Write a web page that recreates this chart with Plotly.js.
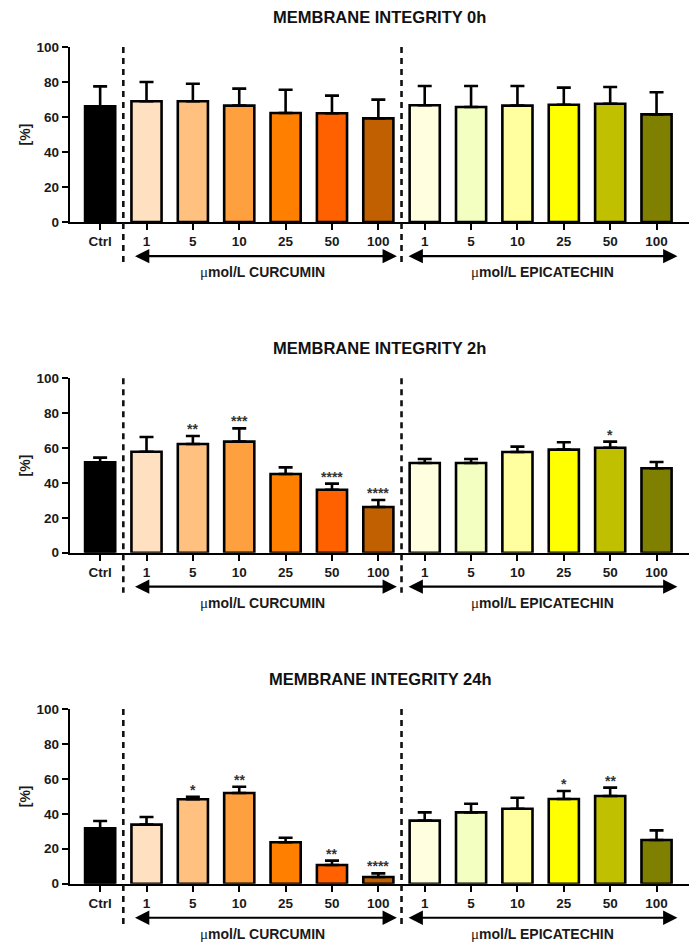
<!DOCTYPE html>
<html><head><meta charset="utf-8">
<script src="https://cdn.plot.ly/plotly-3.0.1.min.js"></script>
<style>html,body{margin:0;padding:0;background:#fff}#chart{width:689px;height:942px}</style>
</head><body><div id="chart"></div>
<script>
// Data
const tickLabels = ["Ctrl","1","5","10","25","50","100","1","5","10","25","50","100"];
const barColors = ["#000000","#FFE0C0","#FFC080","#FFA040","#FF8000","#FF6000","#C06000",
                   "#FFFFE0","#F2FFC0","#FFFFA0","#FFFF00","#C0C000","#808000"];
const panelTitles = ["MEMBRANE INTEGRITY 0h","MEMBRANE INTEGRITY 2h","MEMBRANE INTEGRITY 24h"];
const groupNames = ["CURCUMIN","EPICATECHIN"];
const unitLabel = "mol/L";

const mean0h = [66.1, 69.0, 69.0, 66.5, 62.3, 62.1, 59.2, 66.7, 65.7, 66.5, 67.0, 67.6, 61.5];
const top0h  = [77.5, 80.0, 79.0, 76.2, 75.6, 72.2, 69.9, 77.7, 77.7, 77.7, 76.8, 77.1, 74.1];
const sig0h  = ["","","","","","","","","","","","",""];

const mean2h = [51.8, 57.9, 62.3, 63.7, 45.1, 36.1, 26.2, 51.4, 51.4, 57.7, 59.1, 60.2, 48.4];
const top2h  = [54.5, 66.3, 66.9, 71.3, 48.9, 39.6, 30.2, 53.7, 53.7, 60.8, 63.3, 63.7, 52.0];
const sig2h  = ["","","**","***","","****","****","","","","","*",""];

const mean24h = [31.7, 33.8, 48.3, 51.9, 23.7, 10.7, 3.8, 36.1, 40.8, 42.9, 48.5, 50.2, 25.0];
const top24h  = [35.9, 38.2, 49.8, 55.5, 26.3, 13.2, 5.9, 40.8, 45.8, 49.2, 53.1, 55.0, 30.5];
const sig24h  = ["","","*","**","","**","****","","","","*","**",""];

const panels = [
  {mean: mean0h, top: top0h, sig: sig0h},
  {mean: mean2h, top: top2h, sig: sig2h},
  {mean: mean24h, top: top24h, sig: sig24h}
];

// Layout geometry (pixels of the 689x942 page)
const W = 689, H = 942;
const plotTops = [47, 378.3, 709];
const plotBots = [222, 552.7, 883.7];
const xLeftPx = 70, xRightPx = 689;
const xRange = [-0.65, 12.7];
const FONT = "Liberation Sans, Arial, sans-serif";

const xs = tickLabels.map((_, i) => i);
const traces = [];
const layout = {
  width: W, height: H,
  margin: {l: 0, r: 0, t: 0, b: 0},
  paper_bgcolor: "#fff", plot_bgcolor: "#fff",
  showlegend: false, bargap: 0.35,
  font: {family: FONT, color: "#000"},
  shapes: [], annotations: []
};

panels.forEach((p, k) => {
  const sfx = k === 0 ? "" : String(k + 1);
  const xa = "x" + sfx, ya = "y" + sfx;
  traces.push({
    type: "bar", x: xs, y: p.mean, xaxis: xa, yaxis: ya, width: 0.65,
    marker: {color: barColors, line: {color: "#000", width: 2.6}},
    error_y: {type: "data", symmetric: false,
              array: p.top.map((t, i) => t - p.mean[i]),
              arrayminus: p.mean.map(() => 0),
              color: "#000", thickness: 2.6, width: 7},
    hoverinfo: "none"
  });
  const yDom = [1 - plotBots[k] / H, 1 - plotTops[k] / H];
  const tf = {family: FONT, size: 13.5, color: "#1a1a1a", weight: "bold"};
  layout["xaxis" + sfx] = {
    domain: [xLeftPx / W, xRightPx / W], range: xRange, anchor: ya,
    tickmode: "array", tickvals: xs, ticktext: tickLabels,
    showline: true, linecolor: "#000", linewidth: 2.2,
    ticks: "outside", ticklen: 6, tickwidth: 2, tickcolor: "#000",
    showgrid: false, zeroline: false, fixedrange: true, tickfont: tf
  };
  layout["yaxis" + sfx] = {
    domain: yDom, range: [0, 100], anchor: xa,
    tickvals: [0, 20, 40, 60, 80, 100],
    showline: true, linecolor: "#000", linewidth: 2.2,
    ticks: "outside", ticklen: 6, tickwidth: 2, tickcolor: "#000",
    showgrid: false, zeroline: false, fixedrange: true, tickfont: tf,
    title: {text: "[%]", standoff: 3, font: {family: FONT, size: 14, color: "#1a1a1a", weight: "bold"}}
  };
  // Title
  layout.annotations.push({
    xref: "paper", yref: "paper", x: (xLeftPx + xRightPx) / 2 / W, y: yDom[1] + 19 / H,
    xanchor: "center", yanchor: "bottom", showarrow: false,
    text: "<b>" + panelTitles[k] + "</b>",
    font: {family: FONT, size: 16.5, color: "#111"}
  });
  // Dashed separators
  [0.5, 6.5].forEach(xv => {
    layout.shapes.push({
      type: "line", xref: xa, yref: ya + " domain", x0: xv, x1: xv, y0: 1, y1: -0.23,
      line: {color: "#111", width: 2.6, dash: "6px,5px"}
    });
  });
  // Group arrows and labels
  [[0.72, 6.4, 3.5], [6.62, 12.45, 9.55]].forEach((g, gi) => {
    layout.annotations.push({
      xref: xa, yref: ya + " domain", axref: xa, ayref: ya + " domain",
      x: g[1], y: -0.195, ax: g[0], ay: -0.195, text: "",
      showarrow: true, arrowside: "end+start", arrowhead: 2, arrowsize: 1.3,
      arrowwidth: 2.2, arrowcolor: "#000", standoff: 0, startstandoff: 0
    });
    layout.annotations.push({
      xref: xa, yref: ya + " domain", x: g[2], y: -0.23,
      xanchor: "center", yanchor: "top", showarrow: false,
      text: "<span style=\"font-family:'Liberation Serif',serif;font-size:15px\">\u03bc</span><b>" +
            unitLabel + " " + groupNames[gi] + "</b>",
      font: {family: FONT, size: 14, color: "#1a1a1a"}
    });
  });
  // Significance stars
  p.sig.forEach((s, i) => {
    if (!s) return;
    layout.annotations.push({
      xref: xa, yref: ya, x: xs[i], y: p.top[i], yshift: -3,
      xanchor: "center", yanchor: "bottom", showarrow: false,
      text: "<b>" + s + "</b>", font: {family: FONT, size: 14, color: "#333"}
    });
  });
});

Plotly.newPlot("chart", traces, layout, {staticPlot: true, displayModeBar: false});
</script></body></html>
